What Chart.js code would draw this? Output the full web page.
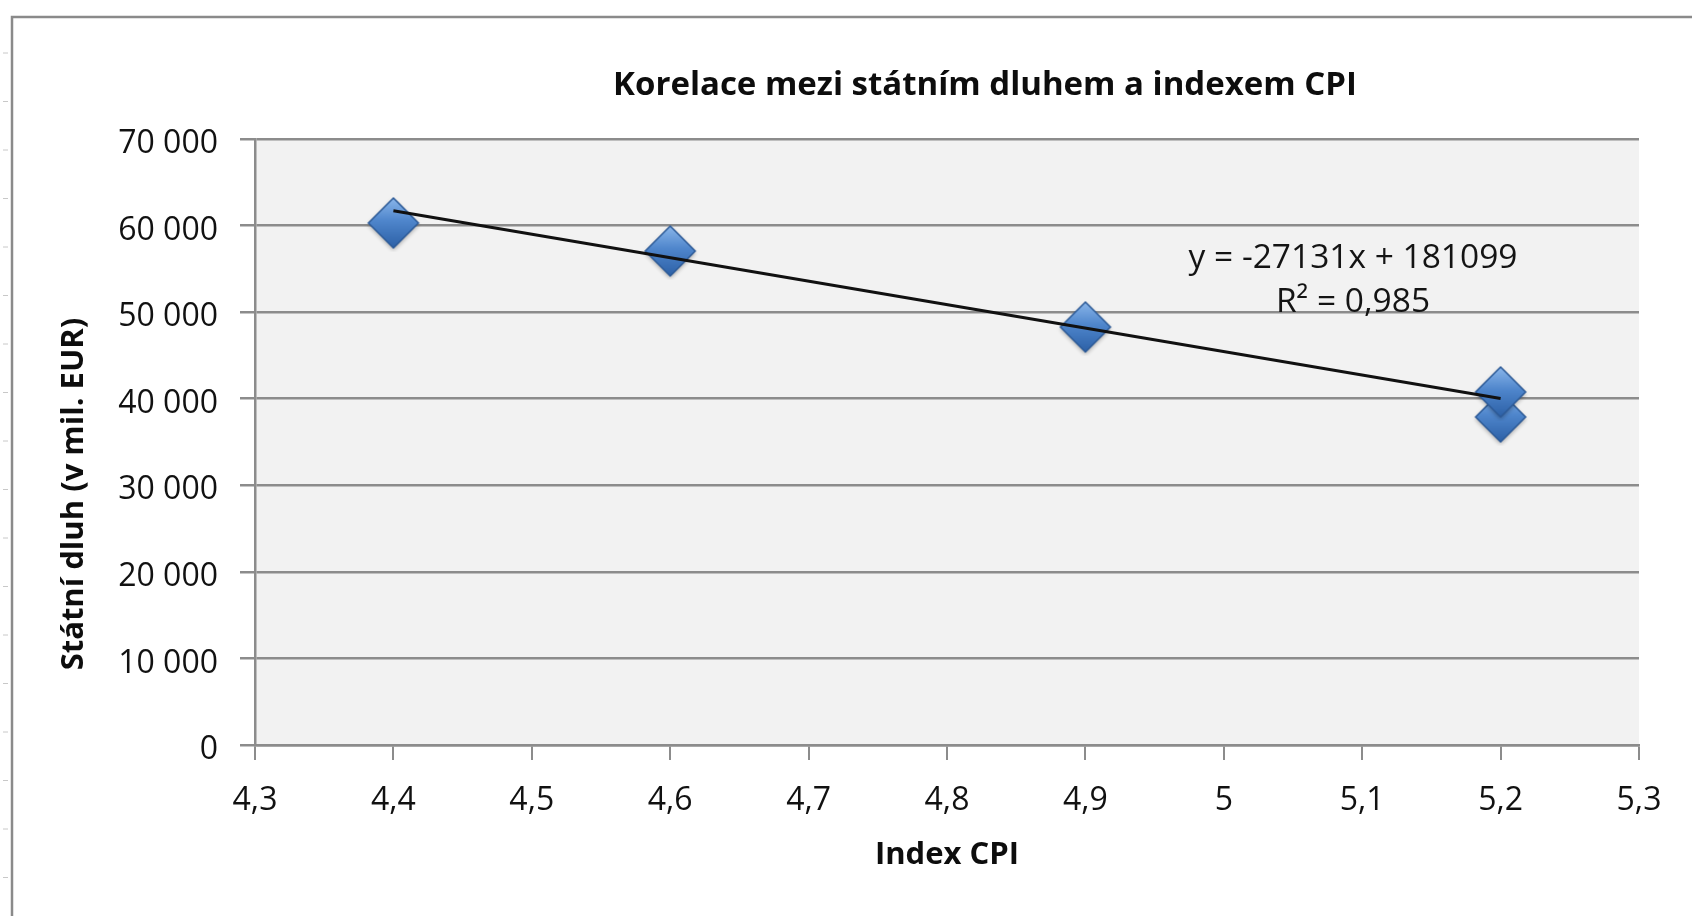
<!DOCTYPE html>
<html>
<head>
<meta charset="utf-8">
<script src="https://cdn.jsdelivr.net/npm/chart.js@4.4.1/dist/chart.umd.min.js"></script>
<style>
  html, body { margin: 0; padding: 0; background: #fff; }
  #wrap { width: 1692px; height: 916px; }
</style>
</head>
<body>
<div id="wrap"><canvas id="myChart" width="1692" height="916"></canvas></div>
<script>
	// data
	const cpiIndex = [4.4, 4.6, 4.9, 5.2, 5.2];
	const statniDluh = [60300, 57060, 48280, 37890, 40780];

	// trendline y = -27131x + 181099, end points
	const trendX = [4.4, 5.2];
	const trendY = [61723, 40018];

	const xTicks = [4.3, 4.4, 4.5, 4.6, 4.7, 4.8, 4.9, 5.0, 5.1, 5.2, 5.3];
	const yTicks = [0, 10000, 20000, 30000, 40000, 50000, 60000, 70000];

	const chartTitle = 'Korelace mezi státním dluhem a indexem CPI';
	const xTitle = 'Index CPI';
	const yTitle = 'Státní dluh (v mil. EUR)';
	const eqLine1 = 'y = -27131x + 181099';
	const eqLine2 = 'R² = 0,985';

	const FONT = "'Open Sans', 'Noto Sans', sans-serif";
	const GRID = '#8c8c8c';

	// diamond marker with a bit of shading, like the excel one
	function makeDiamond(r) {
		const pad = 4;
		const c = document.createElement('canvas');
		c.width = c.height = r * 2 + pad * 2;
		const g = c.getContext('2d');
		const m = r + pad;
		// soft shadow
		g.save();
		g.shadowColor = 'rgba(0,0,0,0.35)';
		g.shadowBlur = 4;
		g.shadowOffsetY = 2;
		g.beginPath();
		g.moveTo(m, m - r); g.lineTo(m + r, m); g.lineTo(m, m + r); g.lineTo(m - r, m);
		g.closePath();
		const grd = g.createLinearGradient(0, m - r, 0, m + r);
		grd.addColorStop(0, '#8ab6ea');
		grd.addColorStop(0.45, '#4f86cc');
		grd.addColorStop(1, '#2c60a6');
		g.fillStyle = grd;
		g.fill();
		g.restore();
		g.lineWidth = 1.5;
		g.strokeStyle = '#2d5b98';
		g.stroke();
		return c;
	}

	const bgPlugin = {
		id: 'bgPlugin',
		beforeDraw(chart) {
			const {ctx, chartArea: a} = chart;
			ctx.save();
			ctx.fillStyle = '#ffffff';
			ctx.fillRect(0, 0, chart.width, chart.height);
			// plot background
			ctx.fillStyle = '#f2f2f2';
			ctx.fillRect(a.left, a.top, a.right - a.left, a.bottom - a.top);
			// outer frame (left and top visible)
			ctx.strokeStyle = '#8a8a8a';
			ctx.lineWidth = 2.5;
			ctx.beginPath();
			ctx.moveTo(12, 916);
			ctx.lineTo(12, 17);
			ctx.lineTo(1692, 17);
			ctx.stroke();
			// little ruler marks at the edge
			ctx.strokeStyle = '#c8c8c8';
			ctx.lineWidth = 1;
			ctx.beginPath();
			for (let y = 53; y < 916; y += 48.5) {
				ctx.moveTo(3, y); ctx.lineTo(8, y);
			}
			ctx.stroke();
			ctx.restore();
		},
		afterDraw(chart) {
			const {ctx} = chart;
			ctx.save();
			ctx.fillStyle = '#0d0d0d';
			ctx.textAlign = 'center';
			ctx.textBaseline = 'middle';
			ctx.font = `bold 33px ${FONT}`;
			ctx.fillText(chartTitle, 985, 86);

			ctx.font = `33.5px ${FONT}`;
			ctx.fillStyle = '#141414';
			ctx.fillText(eqLine1, 1353, 258);
			ctx.fillText(eqLine2, 1353, 302);

			ctx.translate(74, 494);
			ctx.rotate(-Math.PI / 2);
			ctx.font = `bold 31px ${FONT}`;
			ctx.fillStyle = '#0d0d0d';
			ctx.fillText(yTitle, 0, 0);
			ctx.restore();
		}
	};

	const ctx = document.querySelector('#myChart');
	const corelChart = new Chart(ctx, {
		type: 'scatter',
		data: {
			datasets: [
				{
					label: 'trend',
					type: 'line',
					data: trendX.map((x, i) => ({x: x, y: trendY[i]})),
					borderColor: '#111111',
					borderWidth: 3,
					pointRadius: 0,
					fill: false,
					order: 0
				},
				{
					label: 'Státní dluh',
					data: cpiIndex.map((x, i) => ({x: x, y: statniDluh[i]})),
					pointStyle: makeDiamond(25),
					order: 1
				}
			]
		},
		options: {
			responsive: false,
			animation: false,
			events: [],
			layout: {
				padding: {left: 0, top: 139, right: 53, bottom: 0}
			},
			plugins: {
				legend: {display: false},
				tooltip: {enabled: false}
			},
			scales: {
				x: {
					type: 'linear',
					min: 4.3,
					max: 5.3,
					afterBuildTicks: (scale) => { scale.ticks = xTicks.map(v => ({value: v})); },
					afterFit: (scale) => { scale.height = 171; },
					grid: {
						drawOnChartArea: false,
						drawTicks: true,
						tickLength: 15,
						color: GRID,
						lineWidth: 2
					},
					border: {display: true, color: GRID, width: 2.5},
					ticks: {
						padding: 22,
						color: '#111',
						font: {family: FONT, size: 32},
						callback: (v) => String(Math.round(v * 10) / 10).replace('.', ',')
					},
					title: {
						display: true,
						text: xTitle,
						color: '#0d0d0d',
						font: {family: FONT, size: 31, weight: 'bold'},
						padding: {top: 0, bottom: 42}
					}
				},
				y: {
					min: 0,
					max: 70000,
					afterBuildTicks: (scale) => { scale.ticks = yTicks.map(v => ({value: v})); },
					afterFit: (scale) => { scale.width = 255; },
					grid: {
						drawOnChartArea: true,
						drawTicks: true,
						tickLength: 15,
						color: GRID,
						lineWidth: 2.5
					},
					border: {display: true, color: GRID, width: 2.5},
					ticks: {
						padding: 22,
						labelOffset: 5,
						color: '#111',
						font: {family: FONT, size: 32},
						callback: (v) => String(v).replace(/\B(?=(\d{3})+(?!\d))/g, ' ')
					}
				}
			}
		},
		plugins: [bgPlugin]
	});
</script>
</body>
</html>
